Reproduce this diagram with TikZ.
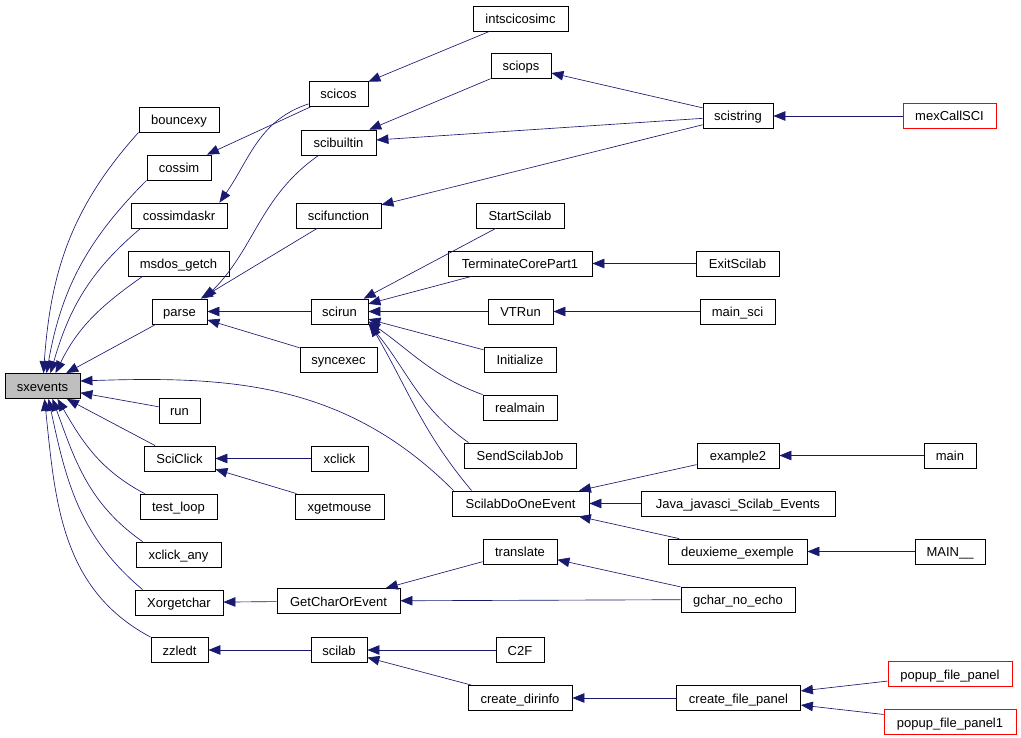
\documentclass[tikz,border=0pt]{standalone}
\usepackage{fontspec}
\setmainfont{Liberation Sans}
\usetikzlibrary{arrows.meta}
\definecolor{edgeblue}{RGB}{25,25,112}

\begin{document}
\begin{tikzpicture}[x=1pt,y=1pt,
  fn/.style={draw,line width=0.8pt,inner sep=0pt,minimum height=25pt,text height=10.5pt,text depth=0.5pt,font=\fontsize{13}{15}\selectfont},
  call/.style={draw=edgeblue,line width=0.65pt,-{Triangle[length=12pt,width=9.5pt]}}]
\useasboundingbox (0,0) rectangle (1021,-738);
\node[fn,fill=gray!50,minimum width=75] (sxevents) at (42.5,-386) {sxevents};
\foreach \n/\x/\y/\w/\txt in {bouncexy/179/119.5/80/bouncexy, cossim/179/167.5/64/cossim,
  cossimdaskr/179/215.5/96/cossimdaskr, msdosgetch/178.5/263.5/101/msdos\_getch,
  parse/179.5/311.5/55/parse, run/179.5/410.5/41/run, SciClick/179.5/458.5/71/SciClick,
  testloop/178.5/506.5/77/test\_loop, xclickany/178.5/554.5/85/xclick\_any,
  Xorgetchar/179/602.5/88/Xorgetchar, zzledt/179.5/650/57/zzledt,
  scicos/338.5/94/59/scicos, scibuiltin/338.5/142.5/75/scibuiltin,
  scifunction/338.5/215.5/85/scifunction, scirun/339.5/311.5/57/scirun,
  syncexec/338.5/359.5/77/syncexec, xclick/339.5/458.5/57/xclick,
  xgetmouse/339.5/506.5/89/xgetmouse, GetCharOrEvent/338.5/601/123/GetCharOrEvent,
  scilab/339/650/56/scilab, intscicosimc/520.5/18.5/95/intscicosimc,
  sciops/521/66/60/sciops, StartScilab/520/215.5/88/StartScilab,
  TerminateCorePart1/520/263.5/144/TerminateCorePart1, VTRun/520.5/311.5/65/VTRun,
  Initialize/520/359.5/72/Initialize, realmain/520/407.5/74/realmain,
  SendScilabJob/520/455.5/112/SendScilabJob, ScilabDoOneEvent/520.5/503.5/137/ScilabDoOneEvent,
  translate/520/551.5/74/translate, C2F/520/650/48/C2F,
  createdirinfo/520/698/104/create\_dirinfo, scistring/738/116/70/scistring,
  ExitScilab/737.5/263.5/83/ExitScilab, mainsci/737.5/311.5/75/main\_sci,
  example2/738/455.5/82/example2, Javaevents/738/503.5/194/Java\_javasci\_Scilab\_Events,
  deuxiemeexemple/737.5/551.5/139/deuxieme\_exemple, gcharnoecho/738/599.5/114/gchar\_no\_echo,
  createfilepanel/738.5/698/124/create\_file\_panel, main/950/455.5/52/main,
  MAIN/950/551.5/70/MAIN\_\_}
  \node[fn,minimum width=\w] (\n) at (\x,-\y) {\txt};
\foreach \n/\x/\y/\w/\txt in {mexCallSCI/949.5/116/93/mexCallSCI,
  popupfilepanel/950/674/124/popup\_file\_panel, popupfilepanel1/950/722/132/popup\_file\_panel1}
  \node[fn,draw=red,minimum width=\w] (\n) at (\x,-\y) {\txt};

\foreach \a/\b in {mexCallSCI/scistring, scistring/sciops, scistring/scibuiltin,
  scistring/scifunction, sciops/scibuiltin, intscicosimc/scicos, scifunction/parse,
  scirun/parse, syncexec/parse, StartScilab/scirun, TerminateCorePart1/scirun,
  VTRun/scirun, Initialize/scirun, ExitScilab/TerminateCorePart1, mainsci/VTRun,
  example2/ScilabDoOneEvent, Javaevents/ScilabDoOneEvent, deuxiemeexemple/ScilabDoOneEvent,
  main/example2, MAIN/deuxiemeexemple, xclick/SciClick, xgetmouse/SciClick,
  GetCharOrEvent/Xorgetchar, translate/GetCharOrEvent, gcharnoecho/GetCharOrEvent,
  gcharnoecho/translate, scilab/zzledt, C2F/scilab, createdirinfo/scilab,
  createfilepanel/createdirinfo, popupfilepanel/createfilepanel,
  popupfilepanel1/createfilepanel, parse/sxevents, run/sxevents, SciClick/sxevents,
  scicos/cossim}
  \draw[call] (\a) -- (\b);

\draw[call] (bouncexy.south west) to[out=228,in=86] ([xshift=1pt]sxevents.north);
\draw[call] (cossim.south west) to[out=225,in=80] ([xshift=4pt]sxevents.north);
\draw[call] ([xshift=10pt]cossimdaskr.south west) to[out=220,in=74] ([xshift=8pt]sxevents.north);
\draw[call] ([xshift=15pt]msdosgetch.south west) to[out=215,in=64] ([xshift=13pt]sxevents.north);
\draw[call] ([xshift=5pt]testloop.north west) to[out=152,in=-60] ([xshift=15pt]sxevents.south);
\draw[call] ([xshift=7pt]xclickany.north west) to[out=145,in=-70] ([xshift=10pt]sxevents.south);
\draw[call] ([xshift=8pt]Xorgetchar.north west) to[out=140,in=-78] ([xshift=6pt]sxevents.south);
\draw[call] (zzledt.north west) to[out=152,in=-84] ([xshift=2pt]sxevents.south);
\draw[call] ([xshift=2pt]ScilabDoOneEvent.north west) to[out=135,in=2] ([yshift=5pt]sxevents.east);
\draw[call] ([yshift=3pt]scicos.south west) to[out=198,in=55] ([xshift=-8pt]cossimdaskr.north east);
\draw[call] ([xshift=18pt]scibuiltin.south west) to[out=215,in=45] ([xshift=-3pt]parse.north east);
\draw[call] ([xshift=20pt]ScilabDoOneEvent.north west) to[out=130,in=-60] ([xshift=2pt]scirun.south east);
\draw[call] ([xshift=5pt]SendScilabJob.north west) to[out=145,in=-50] ([yshift=1pt]scirun.south east);
\draw[call] (realmain.north west) to[out=160,in=-35] ([yshift=3pt]scirun.south east);
\end{tikzpicture}
\end{document}
